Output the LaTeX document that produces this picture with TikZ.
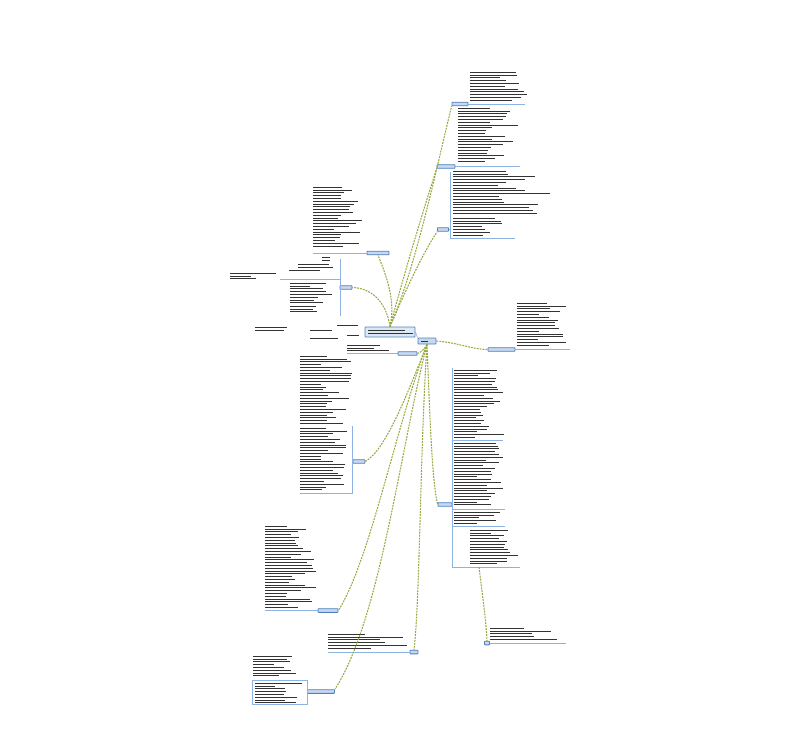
\documentclass[tikz,border=0pt]{standalone}
\usetikzlibrary{positioning}
\definecolor{boxblue}{HTML}{4F81BD}
\definecolor{boxfill}{HTML}{C6D9F1}
\definecolor{lineblue}{HTML}{8DB3E2}
\definecolor{connolive}{HTML}{96A83E}
% rows of unreadable small print: x, top y, width, number of rows
\newcommand{\txtrows}[4]{%
  \foreach \k in {1,...,#4}{%
    \pgfmathsetmacro{\ty}{#2+(\k-1)*2.8}%
    \pgfmathsetmacro{\tl}{#3*(0.4+0.6*rnd)}%
    \draw[txtbar] (#1,\ty) -- ++(\tl,0);
  }}
\begin{document}
\begin{tikzpicture}[x=0.3mm,y=-0.3mm]
 \tikzset{branch node/.style={rectangle, draw=boxblue, fill=boxfill,
 		rounded corners=0.5pt, line width=0.7pt, inner sep=0pt,
 		minimum height=1.1mm, minimum width=#1*0.3mm}, }
 \tikzset{linea/.style={draw=connolive, dash pattern=on 1.6pt off 0.9pt,
 		line width=0.9pt}, }
 \tikzset{underline/.style={draw=lineblue, line width=0.6pt}, }
 \tikzset{txtbar/.style={draw=black!80, line width=0.5pt}, }
 \pgfmathsetseed{11}
 \useasboundingbox (0,0) rectangle (805,753);
 % central topics
 \node[branch node=50, minimum height=3mm, fill=boxfill!60] (c0) at (390,332) {};
 \node[branch node=18, minimum height=1.8mm] (c1) at (427,341) {};
 \txtrows{368}{330}{46}{2}
 \txtrows{421}{341}{12}{1}
 \draw[underline] (c0.east) -- (c1.north west);
 \txtrows{337}{325}{26}{1}
 \txtrows{310}{330}{53}{1}
 \txtrows{347}{335}{16}{1}
 \txtrows{310}{338}{55}{1}
 \txtrows{255}{327}{50}{2}
 % branches
 \node[branch node=16] (b1) at (460,104) {};
 \node[branch node=18] (b2) at (446,166.5) {};
 \node[branch node=11] (b3) at (443,229.5) {};
 \node[branch node=22] (b4) at (378,253) {};
 \node[branch node=12] (b5) at (346,287.5) {};
 \node[branch node=19] (b7) at (407.5,353.5) {};
 \node[branch node=27] (b8) at (501.5,349.5) {};
 \node[branch node=12] (b9) at (359,461.5) {};
 \node[branch node=14] (b10) at (445,504.5) {};
 \node[branch node=5] (b11) at (487,643) {};
 \node[branch node=20] (b12) at (328,610.5) {};
 \node[branch node=8] (b13) at (414,652) {};
 \node[branch node=27] (b14) at (321,691.5) {};
 \node[rectangle, draw=lineblue, line width=0.6pt, inner sep=0pt,
   minimum width=55*0.3mm, minimum height=24*0.3mm] (n14) at (279.5,692) {};
 % text of the branches
 \txtrows{470}{72}{60}{11}
 \draw[underline] (b1.east) -- ++(57,0);
 \txtrows{458}{108}{62}{20}
 \draw[underline] (b2.east) -- ++(65,0);
 \txtrows{453}{171}{105}{16}
 \txtrows{453}{218}{55}{7}
 \draw[underline] (b3.east) -- (450,229.5);
 \draw[underline] (450,172) -- (450,238) -- (515,238);
 \txtrows{313}{187}{52}{22}
 \draw[underline] (b4.west) -- (313,253);
 \txtrows{322}{257}{15}{2}
 \txtrows{298}{264}{40}{2}
 \txtrows{289}{270}{48}{1}
 \txtrows{230}{273}{50}{3}
 \txtrows{290}{283}{48}{8}
 \txtrows{290}{306}{45}{3}
 \draw[underline] (b5.west) -- (340,287.5);
 \draw[underline] (340,259) -- (340,316);
 \draw[underline] (280,279.5) -- (340,279.5);
 \txtrows{347}{345}{43}{3}
 \draw[underline] (b7.west) -- (347,353.5);
 \txtrows{517}{303}{53}{16}
 \draw[underline] (b8.east) -- (570,349.5);
 \txtrows{300}{356}{52}{25}
 \txtrows{300}{428}{52}{23}
 \draw[underline] (b9.west) -- (352,461.5);
 \draw[underline] (352,426) -- (352,493) -- (300,493);
 \txtrows{454}{370}{50}{25}
 \txtrows{454}{443}{50}{23}
 \txtrows{454}{512}{48}{5}
 \txtrows{470}{530}{50}{13}
 \draw[underline] (b10.east) -- (452,504.5);
 \draw[underline] (452,368) -- (452,567) -- (520,567);
 \draw[underline] (452,440) -- (503,440);
 \draw[underline] (452,509) -- (505,509);
 \draw[underline] (452,526) -- (505,526);
 \coordinate (d10) at (479,567);
 \txtrows{490}{628}{75}{5}
 \draw[underline] (b11.east) -- (566,643);
 \txtrows{265}{526}{53}{30}
 \draw[underline] (b12.west) -- (265,610.5);
 \txtrows{328}{634}{80}{6}
 \draw[underline] (b13.west) -- (328,652);
 \txtrows{253}{656}{48}{8}
 \txtrows{255}{683}{50}{8}
 \draw[underline] (n14) -- (b14);
 % connectors
 \foreach \t/\ax/\ay/\bx/\by in {b1.south west/415/270/436/170,
   b2.south west/408/260/425/205, b3.south west/410/280/425/250,
   b4.south/396/300/386/275, b5.east/386/300/370/288}
   \draw[linea] (c0.north) .. controls (\ax,\ay) and (\bx,\by) .. (\t);
 \foreach \t/\ax/\ay/\bx/\by in {b7.east/424/350/420/353,
   b9.east/405/400/385/450, b10.west/430/420/432/480,
   b12.east/395/430/370/560, b13.north/420/450/420/600,
   b14.north east/400/450/380/620}
   \draw[linea] (c1.south) .. controls (\ax,\ay) and (\bx,\by) .. (\t);
 \draw[linea] (c1.east) .. controls (460,343) and (470,349) .. (b8.west);
 \draw[linea] (d10) .. controls (483,600) and (486,620) .. (b11.north);
\end{tikzpicture}
\end{document}
